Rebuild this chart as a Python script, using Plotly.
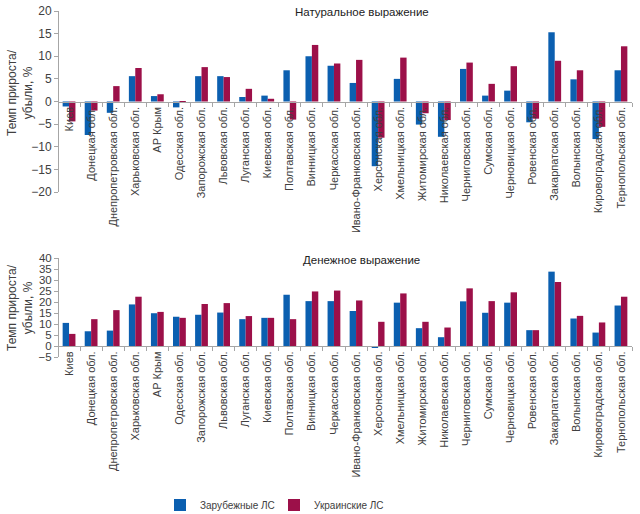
import plotly.graph_objects as go

regions = ["Киев", "Донецкая обл.", "Днепропетровская обл.", "Харьковская обл.", "АР Крым",
           "Одесская обл.", "Запорожская обл.", "Львовская обл.", "Луганская обл.", "Киевская обл.",
           "Полтавская обл.", "Винницкая обл.", "Черкасская обл.", "Ивано-Франковская обл.",
           "Херсонская обл.", "Хмельницкая обл.", "Житомирская обл.", "Николаевская обл.",
           "Черниговская обл.", "Сумская обл.", "Черновицкая обл.", "Ровенская обл.",
           "Закарпатская обл.", "Волынская обл.", "Кировоградская обл.", "Тернопольская обл."]

nat_foreign = [-1.1, -7.4, -2.5, 5.6, 1.2, -1.3, 5.6, 5.6, 1.0, 1.3, 6.9, 10.0, 7.9, 4.1,
               -14.3, 5.0, -5.1, -7.8, 7.2, 1.3, 2.4, -4.6, 15.3, 4.9, -8.3, 6.9]
nat_ukr = [-4.4, -2.0, 3.4, 7.4, 1.6, 0.1, 7.6, 5.4, 2.8, 0.6, -4.0, 12.5, 8.4, 9.2,
           -8.0, 9.7, -2.6, -4.1, 8.6, 3.9, 7.8, -3.8, 9.0, 6.9, -5.6, 12.2]
mon_foreign = [10.5, 6.7, 7.0, 18.9, 14.9, 13.3, 14.2, 15.2, 12.2, 12.8, 23.3, 20.4, 20.4, 15.9,
               -0.8, 19.7, 8.1, 4.0, 20.3, 15.1, 19.7, 7.2, 33.8, 12.5, 6.1, 18.4]
mon_ukr = [5.5, 12.2, 16.3, 22.4, 15.5, 12.8, 19.1, 19.5, 13.6, 12.8, 12.2, 24.8, 25.2, 20.7,
           11.0, 23.9, 11.0, 8.4, 26.2, 20.4, 24.4, 7.2, 29.1, 13.7, 10.7, 22.4]

series_names = ["Зарубежные ЛС", "Украинские ЛС"]
titles = ["Натуральное выражение", "Денежное выражение"]
y_title = "Темп прироста/<br>убыли, %"

BLUE = "#0B5FB0"
RED = "#9C1049"
GRAY = "#404040"
AX = "#A6A6A6"
W, H = 640, 514

def px_x(px):
    return px / W

def py(px):
    return 1 - px / H

fig = go.Figure()
fig.add_trace(go.Bar(x=regions, y=nat_foreign, name=series_names[0], marker_color=BLUE,
                     xaxis="x", yaxis="y", legendgroup="a", legend="legend"))
fig.add_trace(go.Bar(x=regions, y=nat_ukr, name=series_names[1], marker_color=RED,
                     xaxis="x", yaxis="y", legendgroup="b", legend="legend2"))
fig.add_trace(go.Bar(x=regions, y=mon_foreign, name=series_names[0], marker_color=BLUE,
                     xaxis="x2", yaxis="y2", legendgroup="a", showlegend=False))
fig.add_trace(go.Bar(x=regions, y=mon_ukr, name=series_names[1], marker_color=RED,
                     xaxis="x2", yaxis="y2", legendgroup="b", showlegend=False))

xdom = [px_x(58), px_x(632)]
top_dom = [py(192), py(11)]
bot_dom = [py(357), py(258)]

def zero_pos(dom, lo, hi):
    return dom[0] + (0 - lo) / (hi - lo) * (dom[1] - dom[0])

xcommon = dict(domain=xdom, type="category", showline=True, linecolor=AX, linewidth=1,
               ticks="outside", ticklen=4, tickcolor=AX, tickson="boundaries",
               tickangle=-90, tickfont=dict(family="Liberation Sans, Arial", size=11, color=GRAY),
               showgrid=False, zeroline=False, anchor="free", layer="above traces",
               automargin=False)
ycommon = dict(showline=True, linecolor=AX, linewidth=1, ticks="outside", ticklen=4,
               tickcolor=AX, showgrid=False, zeroline=False, anchor="free", position=xdom[0],
               automargin=False)

legfont = dict(family="Liberation Sans, Arial", size=10, color=GRAY)

fig.update_layout(
    width=W, height=H, margin=dict(l=0, r=0, t=0, b=0, autoexpand=False),
    paper_bgcolor="white", plot_bgcolor="white",
    barmode="group", bargap=0.42, bargroupgap=0,
    xaxis=dict(xcommon, position=zero_pos(top_dom, -20, 20)),
    yaxis=dict(ycommon, domain=top_dom, range=[-20, 20], dtick=5,
               tickfont=dict(family="Liberation Sans, Arial", size=12, color=GRAY)),
    xaxis2=dict(xcommon, position=zero_pos(bot_dom, -5, 40)),
    yaxis2=dict(ycommon, domain=bot_dom, range=[-5, 40], dtick=5,
                tickfont=dict(family="Liberation Sans, Arial", size=11.5, color=GRAY)),
    legend=dict(orientation="h", x=px_x(160), xanchor="left", y=py(505), yanchor="middle",
                font=legfont, itemwidth=30, bgcolor="rgba(0,0,0,0)", borderwidth=0),
    legend2=dict(orientation="h", x=px_x(274), xanchor="left", y=py(505), yanchor="middle",
                 font=legfont, itemwidth=30, bgcolor="rgba(0,0,0,0)", borderwidth=0),
    annotations=[
        dict(text=titles[0], x=px_x(362), y=py(12), xref="paper", yref="paper", showarrow=False,
             font=dict(family="Liberation Sans, Arial", size=11.5, color="#222"), xanchor="center", yanchor="middle"),
        dict(text=titles[1], x=px_x(361), y=py(260), xref="paper", yref="paper", showarrow=False,
             font=dict(family="Liberation Sans, Arial", size=11.5, color="#222"), xanchor="center", yanchor="middle"),
        dict(text=y_title, x=px_x(20), y=py(93), xref="paper", yref="paper", showarrow=False,
             textangle=-90, font=dict(family="Liberation Sans, Arial", size=12, color=GRAY),
             xanchor="center", yanchor="middle"),
        dict(text=y_title, x=px_x(20), y=py(308), xref="paper", yref="paper", showarrow=False,
             textangle=-90, font=dict(family="Liberation Sans, Arial", size=12, color=GRAY),
             xanchor="center", yanchor="middle"),
    ],
)
fig.update_traces(marker_line_width=0)
fig.write_html("out.html", config={"displayModeBar": False},
               post_script="document.body.style.margin='0px';")
